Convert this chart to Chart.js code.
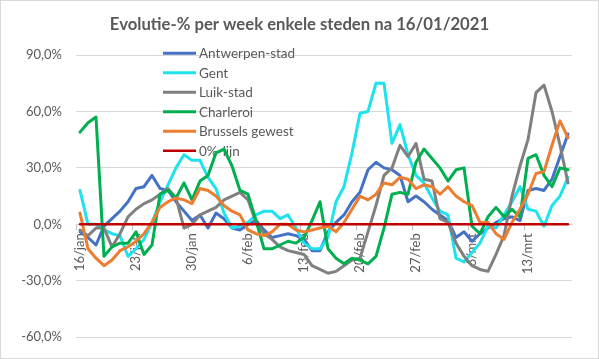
<!DOCTYPE html>
<html><head><meta charset="utf-8">
<script src="https://cdn.jsdelivr.net/npm/chart.js@4.4.1/dist/chart.umd.min.js"></script>
<style>html,body{margin:0;padding:0;background:#fff;}#wrap{position:relative;width:599px;height:359px;}canvas{display:block;}</style>
</head><body><div id="wrap"><canvas id="c" width="599" height="359"></canvas></div>
<script>
const title = 'Evolutie-% per week enkele steden na 16/01/2021';
const categories = [
 '16/jan','17/jan','18/jan','19/jan','20/jan','21/jan','22/jan','23/jan','24/jan','25/jan','26/jan','27/jan','28/jan','29/jan','30/jan','31/jan',
 '1/feb','2/feb','3/feb','4/feb','5/feb','6/feb','7/feb','8/feb','9/feb','10/feb','11/feb','12/feb','13/feb','14/feb','15/feb','16/feb','17/feb','18/feb','19/feb','20/feb','21/feb','22/feb','23/feb','24/feb','25/feb','26/feb','27/feb','28/feb',
 '1/mrt','2/mrt','3/mrt','4/mrt','5/mrt','6/mrt','7/mrt','8/mrt','9/mrt','10/mrt','11/mrt','12/mrt','13/mrt','14/mrt','15/mrt','16/mrt','17/mrt','18/mrt'
];
const tickLabels = ['16/jan','23/jan','30/jan','6/feb','13/feb','20/feb','27/feb','6/mrt','13/mrt'];
const seriesNames = ['Antwerpen-stad','Gent','Luik-stad','Charleroi','Brussels gewest','0%-lijn'];
const antwerpen = [-4,-7,-11,-1,3,7,12,19,20,26,19,18,12,7,2,5,-2,6,3,-2,-3,0,2,-3,-7,-6,-5,-6,-8,-14,-14,-4,1,5,12,17,29,33,30,29,26,12,15,12,8,5,2,-7,-4,-9,-5,-2,1,3,4,2,18,19,18,24,36,48];
const gent = [18,0,0,-3,-5,-6,-17,-13,-8,1,12,21,30,37,34,34,25,19,6,-2,-1,1,5,7,7,3,5,-2,-10,-13,-13,-7,12,20,38,59,60,75,75,43,53,37,26,22,14,7,5,-18,-20,-15,-10,-1,-2,5,12,20,8,7,-1,10,15,25];
const luik = [-3,-6,-2,-2,-12,-5,4,8,11,13,16,19,14,-2,0,5,7,9,13,15,17,13,1,-5,-8,-12,-14,-15,-16,-22,-24,-26,-25,-22,-19,-18,-4,10,26,30,42,36,43,24,23,3,1,-10,-17,-22,-24,-25,-16,-6,15,31,45,70,74,60,42,22];
const charleroi = [49,54,57,-17,-12,-10,-10,-4,-16,-11,16,18,14,22,13,23,26,38,40,31,18,16,2,-13,-13,-11,-9,-10,-7,2,12,-13,-18,-21,-18,-19,-21,-17,-2,16,17,16,33,40,35,30,23,29,30,-1,-5,4,9,4,8,4,35,37,26,20,30,29];
const brussels = [6,-13,-18,-22,-19,-14,-12,-9,-5,1,9,12,14,13,11,19,18,15,10,7,5,-3,-5,-6,-4,0,0,-3,-4,-3,-2,-1,-4,1,8,15,13,16,22,21,25,24,19,21,20,16,20,15,12,10,1,1,-5,-8,1,8,16,27,28,42,55,46];
const zeroLine = categories.map(() => 0);
const colors = ['#4472c4','#1ee3ef','#808080','#00b050','#ed7d31','#c00000'];
const values = [antwerpen, gent, luik, charleroi, brussels, zeroLine];

const TXT = '#595959';
const FONT = 'Lato, "Liberation Sans", sans-serif';

const overlay = {
  id: 'overlay',
  beforeDatasetsDraw(chart) {
    const ctx = chart.ctx;
    ctx.save();
    ctx.font = '13.5px ' + FONT;
    ctx.textBaseline = 'alphabetic';
    ctx.textAlign = 'left';
    seriesNames.forEach((name, k) => {
      const y = 53.3 + k * 19.5;
      ctx.strokeStyle = colors[k];
      ctx.lineWidth = k === 5 ? 2.5 : 3;
      ctx.beginPath(); ctx.moveTo(163, y); ctx.lineTo(196, y); ctx.stroke();
      ctx.fillStyle = TXT;
      ctx.fillText(name, 199, y + 4.7);
    });
    ctx.restore();
  },
  afterDraw(chart) {
    const ctx = chart.ctx;
    ctx.save();
    ctx.font = 'bold 16.7px ' + FONT;
    ctx.fillStyle = TXT;
    ctx.textAlign = 'center';
    ctx.textBaseline = 'alphabetic';
    ctx.fillText(title, 299.5, 30);
    ctx.strokeStyle = '#d9d9d9';
    ctx.lineWidth = 1;
    ctx.strokeRect(0.5, 0.5, 598, 358);
    ctx.restore();
  }
};

new Chart(document.getElementById('c'), {
  type: 'line',
  data: {
    labels: categories,
    datasets: seriesNames.map((name, k) => ({
      label: name,
      data: values[k],
      borderColor: colors[k],
      backgroundColor: colors[k],
      borderWidth: k === 5 ? 2.5 : 3,
      pointRadius: 0,
      tension: 0,
      fill: false,
      borderJoinStyle: 'round',
      borderCapStyle: 'round',
      order: -k
    }))
  },
  options: {
    responsive: false,
    animation: false,
    layout: { padding: { left: 0, right: 27, top: 55, bottom: 20 } },
    plugins: { legend: { display: false }, title: { display: false }, tooltip: { enabled: false } },
    scales: {
      x: {
        type: 'category',
        offset: true,
        position: { y: 0 },
        border: { display: true, color: '#d9d9d9' },
        grid: {
          display: true, drawOnChartArea: false, drawTicks: true, tickLength: 5, offset: true,
          color: (c) => (c.index < categories.length && tickLabels.includes(categories[c.index])) ? '#bfbfbf' : 'rgba(0,0,0,0)'
        },
        ticks: {
          autoSkip: false, maxRotation: 90, minRotation: 90, padding: 4, color: TXT,
          font: { family: FONT, size: 13 },
          callback: function (v, i) { const l = categories[i]; return tickLabels.includes(l) ? l : ''; }
        }
      },
      y: {
        min: -60, max: 90,
        afterFit: (s) => { s.width = 76; },
        border: { display: false },
        grid: { color: '#d9d9d9', drawTicks: false, lineWidth: 1 },
        ticks: {
          stepSize: 30, padding: 14, color: TXT,
          font: { family: FONT, size: 13 },
          callback: (v) => v.toFixed(1).replace('.', ',') + '%'
        }
      }
    }
  },
  plugins: [overlay]
});
</script></body></html>
